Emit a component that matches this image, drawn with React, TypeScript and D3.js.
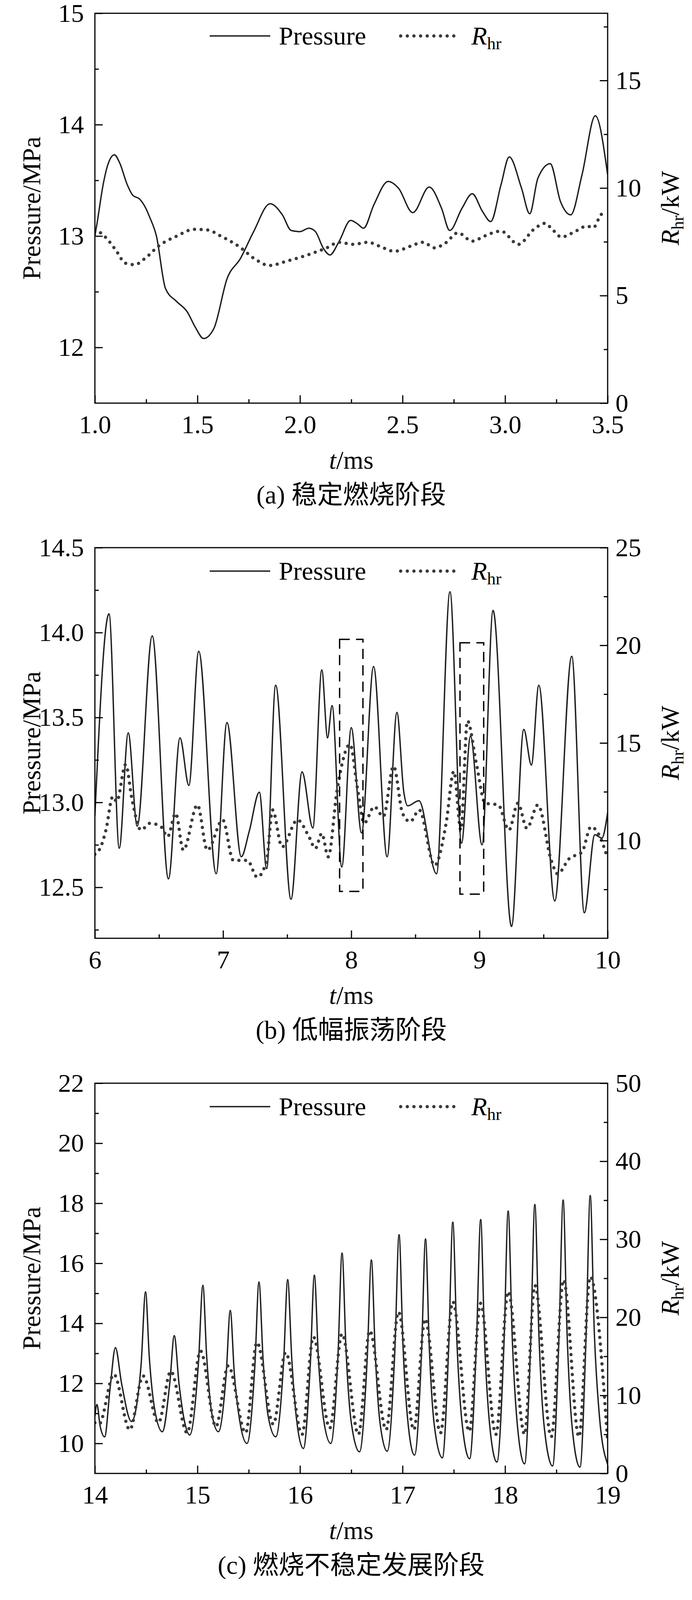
import * as React from 'react';
import { useRef, useEffect } from 'react';
import * as d3 from 'd3';

type Pt = [number, number];

// ---- (a) stable combustion ----
const pressureA: Pt[] = [
  [1.0, 13.0], [1.011, 13.12], [1.04, 13.46], [1.063, 13.64], [1.095, 13.73], [1.12, 13.66], [1.158, 13.46],
  [1.183, 13.37], [1.219, 13.33], [1.248, 13.25], [1.267, 13.17], [1.3, 13.0], [1.344, 12.53], [1.4, 12.41],
  [1.45, 12.32], [1.49, 12.18], [1.53, 12.08], [1.58, 12.17], [1.645, 12.62], [1.71, 12.8], [1.774, 13.04],
  [1.854, 13.29], [1.914, 13.19], [1.957, 13.05], [2.0, 13.04], [2.043, 13.07], [2.075, 13.04], [2.114, 12.89],
  [2.146, 12.83], [2.19, 12.95], [2.247, 13.14], [2.28, 13.11], [2.31, 13.07], [2.36, 13.28], [2.43, 13.49],
  [2.48, 13.43], [2.55, 13.21], [2.63, 13.44], [2.69, 13.25], [2.73, 13.05], [2.79, 13.25], [2.84, 13.38],
  [2.89, 13.22], [2.93, 13.13], [2.98, 13.46], [3.02, 13.71], [3.08, 13.43], [3.12, 13.2], [3.16, 13.52],
  [3.22, 13.65], [3.27, 13.31], [3.32, 13.19], [3.375, 13.55], [3.44, 14.08], [3.5, 13.55],
];
const rhrA: Pt[] = [
  [1.0, 8.08], [1.027, 7.92], [1.054, 7.69], [1.1, 7.14], [1.15, 6.5], [1.194, 6.44], [1.247, 6.75], [1.31, 7.3],
  [1.4, 7.77], [1.484, 8.08], [1.55, 8.05], [1.613, 7.77], [1.7, 7.3], [1.785, 6.67], [1.85, 6.4], [1.935, 6.6],
  [2.04, 6.9], [2.13, 7.22], [2.19, 7.48], [2.26, 7.38], [2.33, 7.48], [2.387, 7.3], [2.46, 7.06], [2.54, 7.3],
  [2.6, 7.48], [2.656, 7.22], [2.71, 7.45], [2.77, 7.92], [2.84, 7.53], [2.9, 7.77], [2.98, 8.0], [3.065, 7.38],
  [3.14, 8.08], [3.195, 8.36], [3.23, 8.08], [3.275, 7.72], [3.33, 7.92], [3.4, 8.23], [3.43, 8.16], [3.47, 8.78],
  [3.5, 8.86],
];
const xTicksA = [1.0, 1.5, 2.0, 2.5, 3.0, 3.5];
const xMinorA = [1.25, 1.75, 2.25, 2.75, 3.25];
const leftTicksA = [12, 13, 14, 15];
const leftMinorA = [12.5, 13.5, 14.5];
const rightTicksA = [0, 5, 10, 15];
const rightMinorA = [2.5, 7.5, 12.5, 17.5];

// ---- (b) low amplitude oscillation ----
const pressureB: Pt[] = [
  [6.0, 12.92], [6.11, 14.11], [6.19, 12.73], [6.26, 13.41], [6.33, 12.86], [6.447, 13.98], [6.574, 12.55],
  [6.664, 13.38], [6.733, 13.1], [6.81, 13.89], [6.946, 12.58], [7.03, 13.47], [7.142, 12.68], [7.204, 12.83],
  [7.283, 13.06], [7.34, 12.61], [7.41, 13.69], [7.53, 12.43], [7.616, 13.18], [7.7, 12.85], [7.77, 13.78],
  [7.815, 13.38], [7.85, 13.57], [7.926, 12.62], [8.0, 13.44], [8.08, 12.82], [8.174, 13.8], [8.28, 12.68],
  [8.356, 13.53], [8.41, 13.06], [8.44, 12.98], [8.528, 13.01], [8.665, 12.58], [8.77, 14.24], [8.86, 12.76],
  [8.93, 13.39], [9.02, 12.75], [9.106, 14.13], [9.25, 12.27], [9.346, 13.43], [9.405, 13.22], [9.463, 13.69],
  [9.587, 12.42], [9.72, 13.86], [9.818, 12.35], [9.9, 12.81], [9.955, 12.79], [10.0, 12.94],
];
const rhrB: Pt[] = [
  [6.0, 9.3], [6.04, 9.6], [6.086, 10.54], [6.14, 12.26], [6.17, 12.0], [6.24, 13.9], [6.29, 12.09], [6.36, 10.54],
  [6.43, 10.89], [6.516, 10.71], [6.567, 10.2], [6.63, 11.4], [6.69, 9.51], [6.8, 11.83], [6.877, 9.51],
  [6.997, 11.06], [7.08, 8.99], [7.19, 8.99], [7.266, 8.13], [7.34, 8.99], [7.386, 11.57], [7.46, 9.68],
  [7.58, 11.06], [7.67, 10.2], [7.72, 9.6], [7.77, 10.37], [7.82, 9.17], [7.89, 12.61], [7.99, 14.93],
  [8.05, 12.61], [8.1, 10.89], [8.18, 11.74], [8.25, 11.23], [8.33, 13.81], [8.4, 11.4], [8.46, 10.97],
  [8.53, 11.57], [8.65, 8.73], [8.74, 10.89], [8.8, 13.55], [8.855, 10.54], [8.906, 16.14], [8.975, 13.98],
  [9.044, 11.92], [9.147, 11.83], [9.23, 10.54], [9.3, 11.92], [9.37, 10.63], [9.456, 11.83], [9.56, 8.99],
  [9.61, 8.3], [9.7, 9.08], [9.8, 9.42], [9.87, 10.71], [9.94, 10.2], [10.0, 9.08],
];
// dashed boxes: [t0, t1, p0, p1]
const boxesB = [
  [7.909, 8.091, 12.476, 13.96],
  [8.848, 9.033, 12.46, 13.94],
];
const xTicksB = [6, 7, 8, 9, 10];
const xMinorB = [6.5, 7.5, 8.5, 9.5];
const leftTicksB = [12.5, 13.0, 13.5, 14.0, 14.5];
const leftMinorB = [12.25, 12.75, 13.25, 13.75, 14.25];
const rightTicksB = [10, 15, 20, 25];
const rightMinorB = [7.5, 12.5, 17.5, 22.5];

// ---- (c) developing instability ----
const pressureC: Pt[] = [
  [14.0, 10.9], [14.02, 11.3], [14.05, 10.6], [14.095, 10.22], [14.15, 11.9], [14.2, 13.19], [14.26, 12.0], [14.357, 10.73],
  [14.45, 12.6], [14.494, 15.05], [14.53, 12.9], [14.58, 11.2], [14.658, 10.39],
  [14.73, 12.0], [14.774, 13.59], [14.82, 12.0], [14.87, 10.8], [14.924, 10.28],
  [15.01, 12.7], [15.053, 15.27], [15.09, 12.9], [15.14, 11.0], [15.204, 10.39],
  [15.28, 12.3], [15.32, 14.43], [15.36, 12.3], [15.41, 10.8], [15.483, 10.0],
  [15.56, 12.6], [15.6, 15.38], [15.64, 12.8], [15.69, 10.9], [15.763, 10.22],
  [15.84, 12.7], [15.88, 15.46], [15.92, 12.8], [15.97, 10.7], [16.033, 9.83],
  [16.1, 12.6], [16.14, 15.6], [16.18, 12.8], [16.23, 10.8], [16.3, 10.0],
  [16.37, 12.9], [16.41, 16.34], [16.45, 13.0], [16.5, 10.7], [16.58, 9.72],
  [16.655, 12.8], [16.696, 16.11], [16.735, 12.9], [16.78, 10.7], [16.85, 9.74],
  [16.925, 13.1], [16.966, 16.95], [17.005, 13.2], [17.05, 10.8], [17.117, 9.61],
  [17.185, 13.0], [17.224, 16.81], [17.262, 13.1], [17.31, 10.6], [17.388, 9.52],
  [17.45, 13.2], [17.49, 17.37], [17.53, 13.4], [17.58, 10.7], [17.654, 9.49],
  [17.72, 13.3], [17.762, 17.46], [17.8, 13.4], [17.85, 10.6], [17.92, 9.38],
  [17.99, 13.4], [18.03, 17.74], [18.07, 13.5], [18.12, 10.6], [18.19, 9.32],
  [18.25, 13.4], [18.29, 17.96], [18.33, 13.6], [18.38, 10.6], [18.463, 9.25],
  [18.525, 13.5], [18.566, 18.11], [18.605, 13.6], [18.655, 10.5], [18.73, 9.21],
  [18.79, 13.6], [18.83, 18.26], [18.87, 13.7], [18.92, 10.9], [19.0, 9.3],
];
const rhrC: Pt[] = [
  [14.0, 6.5], [14.04, 6.3], [14.185, 12.7], [14.34, 5.6], [14.47, 12.5], [14.62, 6.5], [14.74, 13.1], [14.9, 5.2],
  [15.03, 15.7], [15.18, 6.0], [15.3, 13.8], [15.47, 5.2], [15.58, 16.8], [15.74, 6.3], [15.86, 15.5], [16.02, 5.0],
  [16.13, 17.5], [16.29, 5.8], [16.41, 17.9], [16.57, 5.0], [16.68, 18.3], [16.84, 5.6], [16.96, 20.7], [17.11, 5.6],
  [17.22, 19.8], [17.37, 5.2], [17.49, 22.0], [17.65, 5.4], [17.76, 21.8], [17.91, 5.0], [18.03, 23.3], [18.19, 5.0],
  [18.29, 24.1], [18.45, 4.7], [18.57, 24.8], [18.72, 4.7], [18.83, 25.2], [19.0, 4.1],
];
const xTicksC = [14, 15, 16, 17, 18, 19];
const xMinorC = [14.5, 15.5, 16.5, 17.5, 18.5];
const leftTicksC = [10, 12, 14, 16, 18, 20, 22];
const leftMinorC = [11, 13, 15, 17, 19, 21];
const rightTicksC = [0, 10, 20, 30, 40, 50];
const rightMinorC = [5, 15, 25, 35, 45];

// ---- (d) violent instability ----
const pressureD: Pt[] = [
  [35.0, 11.0], [35.03, 10.1],
  [35.064, 9.7], [35.095, 10.6], [35.12, 14.2], [35.14, 19.0], [35.155, 21.6], [35.167, 20.2], [35.185, 16.7], [35.215, 13.4], [35.255, 11.1], [35.295, 9.95],
  [35.333, 9.7], [35.364, 10.6], [35.389, 14.2], [35.409, 19.0], [35.424, 21.65], [35.436, 20.2], [35.454, 16.7], [35.484, 13.4], [35.524, 11.1], [35.564, 9.95],
  [35.6, 9.7], [35.631, 10.6], [35.656, 14.2], [35.676, 19.0], [35.691, 21.6], [35.703, 20.2], [35.721, 16.7], [35.751, 13.4], [35.791, 11.1], [35.831, 9.95],
  [35.869, 9.7], [35.9, 10.6], [35.925, 14.2], [35.945, 19.0], [35.96, 21.6], [35.972, 20.2], [35.99, 16.7], [36.02, 13.4], [36.06, 11.1], [36.1, 9.95],
  [36.135, 9.7], [36.166, 10.6], [36.191, 14.2], [36.211, 19.0], [36.226, 21.65], [36.238, 20.2], [36.256, 16.7], [36.286, 13.4], [36.326, 11.1], [36.366, 9.95],
  [36.404, 9.7], [36.435, 10.6], [36.46, 14.2], [36.48, 19.0], [36.495, 21.6], [36.507, 20.2], [36.525, 16.7], [36.555, 13.4], [36.595, 11.1], [36.635, 9.95],
  [36.671, 9.7], [36.702, 10.6], [36.727, 14.2], [36.747, 19.0], [36.762, 21.6], [36.774, 20.2], [36.792, 16.7], [36.822, 13.4], [36.862, 11.1], [36.902, 9.95],
  [36.936, 9.7], [36.967, 10.6], [36.992, 14.2], [37.012, 19.0], [37.027, 21.6], [37.039, 20.2], [37.057, 16.7], [37.087, 13.4], [37.127, 11.1], [37.167, 9.95],
  [37.205, 9.7], [37.236, 10.6], [37.261, 14.2], [37.281, 19.0], [37.296, 21.65], [37.308, 20.2], [37.326, 16.7], [37.356, 13.4], [37.396, 11.1], [37.436, 9.95],
  [37.471, 9.7], [37.502, 10.6], [37.527, 14.2], [37.547, 19.0], [37.562, 21.6], [37.574, 20.2], [37.592, 16.7], [37.622, 13.4], [37.662, 11.1], [37.702, 9.95],
  [37.738, 9.7], [37.769, 10.6], [37.794, 14.2], [37.814, 19.0], [37.829, 21.6], [37.841, 20.2], [37.859, 16.7], [37.889, 13.4], [37.929, 11.1], [37.969, 9.95],
  [38.0, 9.7],
];
const rhrD: Pt[] = [
  [35.0, 8.8], [35.03, 9.0],
  [35.087, 10.8], [35.114, 18.2], [35.137, 29.1], [35.148, 32.2], [35.157, 30.8], [35.163, 31.1], [35.175, 27.6], [35.195, 21.2], [35.226, 13.7], [35.255, 9.6], [35.291, 8.7], [35.325, 9.0],
  [35.356, 10.8], [35.383, 18.2], [35.406, 29.1], [35.417, 32.2], [35.426, 30.8], [35.432, 31.1], [35.444, 27.6], [35.464, 21.2], [35.495, 13.7], [35.524, 9.6], [35.56, 8.7], [35.594, 9.0],
  [35.623, 10.8], [35.65, 18.2], [35.673, 29.1], [35.684, 32.2], [35.693, 30.8], [35.699, 31.1], [35.711, 27.6], [35.731, 21.2], [35.762, 13.7], [35.791, 9.6], [35.827, 8.7], [35.861, 9.0],
  [35.892, 10.8], [35.919, 18.2], [35.942, 29.1], [35.953, 32.2], [35.962, 30.8], [35.968, 31.1], [35.98, 27.6], [36.0, 21.2], [36.031, 13.7], [36.06, 9.6], [36.096, 8.7], [36.13, 9.0],
  [36.158, 10.8], [36.185, 18.2], [36.208, 29.1], [36.219, 32.2], [36.228, 30.8], [36.234, 31.1], [36.246, 27.6], [36.266, 21.2], [36.297, 13.7], [36.326, 9.6], [36.362, 8.7], [36.396, 9.0],
  [36.427, 10.8], [36.454, 18.2], [36.477, 29.1], [36.488, 32.2], [36.497, 30.8], [36.503, 31.1], [36.515, 27.6], [36.535, 21.2], [36.566, 13.7], [36.595, 9.6], [36.631, 8.7], [36.665, 9.0],
  [36.694, 10.8], [36.721, 18.2], [36.744, 29.1], [36.755, 32.2], [36.764, 30.8], [36.77, 31.1], [36.782, 27.6], [36.802, 21.2], [36.833, 13.7], [36.862, 9.6], [36.898, 8.7], [36.932, 9.0],
  [36.959, 10.8], [36.986, 18.2], [37.009, 29.1], [37.02, 32.2], [37.029, 30.8], [37.035, 31.1], [37.047, 27.6], [37.067, 21.2], [37.098, 13.7], [37.127, 9.6], [37.163, 8.7], [37.197, 9.0],
  [37.228, 10.8], [37.255, 18.2], [37.278, 29.1], [37.289, 32.2], [37.298, 30.8], [37.304, 31.1], [37.316, 27.6], [37.336, 21.2], [37.367, 13.7], [37.396, 9.6], [37.432, 8.7], [37.466, 9.0],
  [37.494, 10.8], [37.521, 18.2], [37.544, 29.1], [37.555, 32.2], [37.564, 30.8], [37.57, 31.1], [37.582, 27.6], [37.602, 21.2], [37.633, 13.7], [37.662, 9.6], [37.698, 8.7], [37.732, 9.0],
  [37.761, 10.8], [37.788, 18.2], [37.811, 29.1], [37.822, 32.2], [37.831, 30.8], [37.837, 31.1], [37.849, 27.6], [37.869, 21.2], [37.9, 13.7], [37.929, 9.6], [37.965, 8.7], [38.0, 9.0],
];
const xTicksD = [35, 36, 37, 38];
const xMinorD = [35.5, 36.5, 37.5];
const leftTicksD = [10, 12, 14, 16, 18, 20, 22, 24];
const leftMinorD = [11, 13, 15, 17, 19, 21, 23];
const rightTicksD = [0, 10, 20, 30, 40, 50];
const rightMinorD = [5, 15, 25, 35, 45];

const captions = ['(a) 稳定燃烧阶段', '(b) 低幅振荡阶段', '(c) 燃烧不稳定发展阶段', '(d) 剧烈燃烧不稳定阶段'];

// layout
const W = 1772;
const H = 5429;
const PLOT_L = 243;
const PLOT_R = 1556;
const SERIF = '"Liberation Serif", "Times New Roman", Times, "Noto Sans CJK SC", serif';
const FS = 66;

type Panel = {
  top: number; bottom: number; legendDy: number;
  xDomain: [number, number]; leftDomain: [number, number]; rightDomain: [number, number];
  xTicks: number[]; xMinor: number[]; leftTicks: number[]; leftMinor: number[];
  rightTicks: number[]; rightMinor: number[]; xFmt: string; leftFmt: string;
  pressure: Pt[]; rhr: Pt[]; caption: string; boxes?: number[][];
};

const panels: Panel[] = [
  { top: 34, bottom: 1032, legendDy: 58, xDomain: [1, 3.5], leftDomain: [11.5, 15], rightDomain: [0, 18.125],
    xTicks: xTicksA, xMinor: xMinorA, leftTicks: leftTicksA, leftMinor: leftMinorA, rightTicks: rightTicksA, rightMinor: rightMinorA,
    xFmt: '.1f', leftFmt: 'd', pressure: pressureA, rhr: rhrA, caption: captions[0] },
  { top: 1402, bottom: 2402, legendDy: 60, xDomain: [6, 10], leftDomain: [12.2, 14.5], rightDomain: [5, 25],
    xTicks: xTicksB, xMinor: xMinorB, leftTicks: leftTicksB, leftMinor: leftMinorB, rightTicks: rightTicksB, rightMinor: rightMinorB,
    xFmt: 'd', leftFmt: '.1f', pressure: pressureB, rhr: rhrB, caption: captions[1], boxes: boxesB },
  { top: 2773, bottom: 3772, legendDy: 60, xDomain: [14, 19], leftDomain: [9, 22], rightDomain: [0, 50],
    xTicks: xTicksC, xMinor: xMinorC, leftTicks: leftTicksC, leftMinor: leftMinorC, rightTicks: rightTicksC, rightMinor: rightMinorC,
    xFmt: 'd', leftFmt: 'd', pressure: pressureC, rhr: rhrC, caption: captions[2] },
  { top: 4141, bottom: 5143, legendDy: 90, xDomain: [35, 38], leftDomain: [9, 24], rightDomain: [0, 50],
    xTicks: xTicksD, xMinor: xMinorD, leftTicks: leftTicksD, leftMinor: leftMinorD, rightTicks: rightTicksD, rightMinor: rightMinorD,
    xFmt: 'd', leftFmt: 'd', pressure: pressureD, rhr: rhrD, caption: captions[3] },
];

const styleAxis = (sel: any) => {
  sel.select('.domain').remove();
  sel.attr('font-size', FS).attr('font-family', SERIF);
  sel.selectAll('line').attr('stroke', '#000').attr('stroke-width', 3);
  sel.selectAll('text').attr('fill', '#000');
};

const App: React.FC = () => {
  const svgRef = useRef<SVGSVGElement | null>(null);

  useEffect(() => {
    document.body.style.margin = '0';
    if (!svgRef.current) return;
    const svg = d3.select(svgRef.current);
    svg.selectAll('*').remove();

    panels.forEach((p, i) => {
      const x = d3.scaleLinear().domain(p.xDomain).range([PLOT_L, PLOT_R]);
      const yL = d3.scaleLinear().domain(p.leftDomain).range([p.bottom, p.top]);
      const yR = d3.scaleLinear().domain(p.rightDomain).range([p.bottom, p.top]);
      const g = svg.append('g');
      const mid = (p.top + p.bottom) / 2;

      // clip the curves to the plot box
      const clipId = `plot-clip-${i}`;
      g.append('clipPath').attr('id', clipId).append('rect')
        .attr('x', PLOT_L).attr('y', p.top).attr('width', PLOT_R - PLOT_L).attr('height', p.bottom - p.top);

      const lineP = d3.line<Pt>().x(d => x(d[0])).y(d => yL(d[1])).curve(d3.curveMonotoneX);
      const lineR = d3.line<Pt>().x(d => x(d[0])).y(d => yR(d[1])).curve(d3.curveMonotoneX);

      const plot = g.append('g').attr('clip-path', `url(#${clipId})`);
      plot.append('path')
        .attr('d', lineP(p.pressure) as string)
        .attr('fill', 'none').attr('stroke', '#1e1e1e').attr('stroke-width', 3.5).attr('stroke-linejoin', 'round');
      plot.append('path')
        .attr('d', lineR(p.rhr) as string)
        .attr('fill', 'none').attr('stroke', '#3a3a3a').attr('stroke-width', 8.5)
        .attr('stroke-linecap', 'round').attr('stroke-dasharray', '0 17');

      // dashed boxes (panel b)
      (p.boxes || []).forEach(b => {
        g.append('rect')
          .attr('x', x(b[0])).attr('y', yL(b[3]))
          .attr('width', x(b[1]) - x(b[0])).attr('height', yL(b[2]) - yL(b[3]))
          .attr('fill', 'none').attr('stroke', '#000').attr('stroke-width', 3.5).attr('stroke-dasharray', '26 16');
      });

      // axes, ticks pointing inward
      g.append('g').attr('transform', `translate(0,${p.bottom})`)
        .call(d3.axisBottom(x).tickValues(p.xTicks).tickSize(-20).tickPadding(30).tickFormat(d3.format(p.xFmt)) as any)
        .call(styleAxis);
      g.append('g').attr('transform', `translate(0,${p.bottom})`)
        .call(d3.axisBottom(x).tickValues(p.xMinor).tickSize(-10).tickFormat(() => '') as any)
        .call(styleAxis);
      g.append('g').attr('transform', `translate(${PLOT_L},0)`)
        .call(d3.axisLeft(yL).tickValues(p.leftTicks).tickSize(-20).tickPadding(28).tickFormat(d3.format(p.leftFmt)) as any)
        .call(styleAxis);
      g.append('g').attr('transform', `translate(${PLOT_L},0)`)
        .call(d3.axisLeft(yL).tickValues(p.leftMinor).tickSize(-10).tickFormat(() => '') as any)
        .call(styleAxis);
      g.append('g').attr('transform', `translate(${PLOT_R},0)`)
        .call(d3.axisRight(yR).tickValues(p.rightTicks).tickSize(-20).tickPadding(20).tickFormat(d3.format('d')) as any)
        .call(styleAxis);
      g.append('g').attr('transform', `translate(${PLOT_R},0)`)
        .call(d3.axisRight(yR).tickValues(p.rightMinor).tickSize(-10).tickFormat(() => '') as any)
        .call(styleAxis);

      // frame
      g.append('rect')
        .attr('x', PLOT_L).attr('y', p.top).attr('width', PLOT_R - PLOT_L).attr('height', p.bottom - p.top)
        .attr('fill', 'none').attr('stroke', '#000').attr('stroke-width', 3);

      // legend
      const ly = p.top + p.legendDy;
      g.append('line').attr('x1', 537).attr('x2', 692).attr('y1', ly).attr('y2', ly)
        .attr('stroke', '#1e1e1e').attr('stroke-width', 3.5);
      g.append('text').attr('x', 714).attr('y', ly + 22)
        .attr('font-family', SERIF).attr('font-size', FS).text('Pressure');
      g.append('line').attr('x1', 1026).attr('x2', 1164).attr('y1', ly).attr('y2', ly)
        .attr('stroke', '#3a3a3a').attr('stroke-width', 8.5).attr('stroke-linecap', 'round').attr('stroke-dasharray', '0 17');
      const lt = g.append('text').attr('x', 1207).attr('y', ly + 22).attr('font-family', SERIF).attr('font-size', FS);
      lt.append('tspan').attr('font-style', 'italic').text('R');
      lt.append('tspan').attr('font-size', 44).attr('dy', 12).text('hr');

      // axis titles
      g.append('text')
        .attr('transform', `translate(103,${mid}) rotate(-90)`)
        .attr('text-anchor', 'middle').attr('font-family', SERIF).attr('font-size', FS)
        .text('Pressure/MPa');
      const rt = g.append('text')
        .attr('transform', `translate(1738,${mid}) rotate(-90)`)
        .attr('text-anchor', 'middle').attr('font-family', SERIF).attr('font-size', FS);
      rt.append('tspan').attr('font-style', 'italic').text('R');
      rt.append('tspan').attr('font-size', 44).attr('dy', 12).text('hr');
      rt.append('tspan').attr('dy', -12).text('/kW');

      const xt = g.append('text')
        .attr('x', (PLOT_L + PLOT_R) / 2).attr('y', p.bottom + 168)
        .attr('text-anchor', 'middle').attr('font-family', SERIF).attr('font-size', FS);
      xt.append('tspan').attr('font-style', 'italic').text('t');
      xt.append('tspan').text('/ms');

      // caption
      g.append('text')
        .attr('x', (PLOT_L + PLOT_R) / 2).attr('y', p.bottom + 257)
        .attr('text-anchor', 'middle').attr('font-family', SERIF).attr('font-size', FS)
        .text(p.caption);
    });
  }, []);

  return (
    <svg
      ref={svgRef}
      width={W}
      height={H}
      viewBox={`0 0 ${W} ${H}`}
      style={{ display: 'block', background: '#fff' }}
    />
  );
};

export default App;
